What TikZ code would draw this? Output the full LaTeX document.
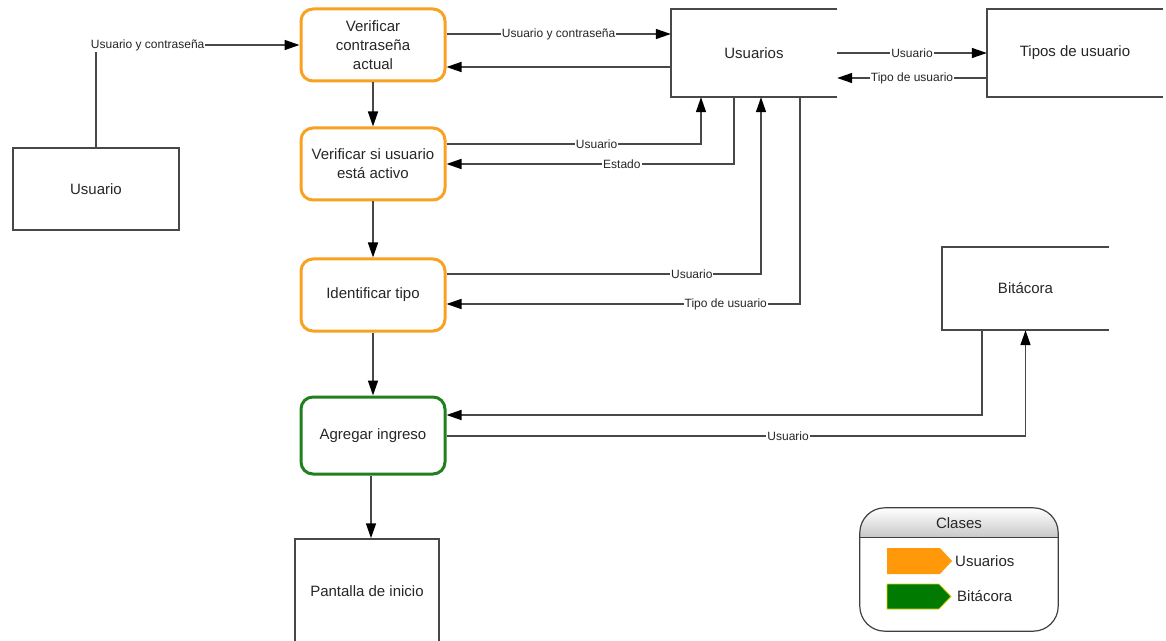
\documentclass[tikz,border=0pt]{standalone}
\usepackage{fontspec}
\setmainfont{Liberation Sans}
\usetikzlibrary{arrows.meta,calc}

\definecolor{procorange}{RGB}{247,162,34}
\definecolor{procgreen}{RGB}{32,128,32}
\definecolor{tagorange}{RGB}{255,153,10}
\definecolor{taggreen}{RGB}{0,122,0}
\definecolor{linegray}{RGB}{72,72,72}

\tikzset{
  proc/.style={rectangle, rounded corners=12bp, line width=3bp, align=center,
    minimum width=144bp, minimum height=72bp, inner sep=2bp,
    font=\fontsize{15bp}{19bp}\selectfont, text=black!85},
  usproc/.style={proc, draw=procorange},
  bitproc/.style={proc, draw=procgreen},
  store/.style={rectangle, inner sep=0pt, font=\fontsize{15bp}{19bp}\selectfont, text=black!85},
  entity/.style={store, draw=linegray, line width=1.5bp},
  storeline/.style={draw=linegray, line width=1.5bp},
  flow/.style={draw=linegray, line width=1.5bp, -{Triangle[length=15bp,width=10bp,color=black,fill=black]}},
  lbl/.style={fill=white, inner sep=1bp, font=\fontsize{12bp}{14bp}\selectfont, text=black!85},
}

\begin{document}
\begin{tikzpicture}[x=1bp, y=-1bp]
\useasboundingbox (0,0) rectangle (1166,641);
\clip (0,0) rectangle (1166,641);

% processes
\node[usproc] (vcon) at (373,45) {Verificar\\contraseña\\actual};
\node[usproc] (vact) at (373,164) {Verificar si usuario\\está activo};
\node[usproc] (ident) at (373,295) {Identificar tipo};
\node[bitproc, minimum height=77bp] (agr) at (373,435.5) {Agregar ingreso};

% external entities
\node[entity, minimum width=166bp, minimum height=82bp] (ue) at (96,189) {Usuario};
\node[entity, minimum width=144bp, minimum height=104bp] (pant) at (367,591) {Pantalla de inicio};

% data stores (open on the right)
\node[store, minimum width=166bp, minimum height=88bp] (us) at (754,53) {Usuarios};
\draw[storeline] (us.north east) -- (us.north west) -- (us.south west) -- (us.south east);
\node[store, minimum width=176bp, minimum height=88bp] (tipos) at (1075,53) {Tipos de usuario};
\draw[storeline] (tipos.north east) -- (tipos.north west) -- (tipos.south west) -- (tipos.south east);
\node[store, minimum width=167bp, minimum height=83bp] (bit) at (1025.5,288.5) {Bitácora};
\draw[storeline] (bit.north east) -- (bit.north west) -- (bit.south west) -- (bit.south east);

% data flows
\draw[flow] (ue.north) |- node[lbl, pos=0.627] {Usuario y contraseña} (vcon.west);
\draw[flow] ($(vcon.east)+(0,-11)$) -- node[lbl] {Usuario y contraseña} ($(us.west)+(0,-19)$);
\draw[flow] ($(us.west)+(0,14)$) -- ($(vcon.east)+(0,22)$);
\draw[flow] (vcon.south) -- (vact.north);

\draw[flow] ($(vact.east)+(0,-20)$) -| node[lbl, pos=0.295] {Usuario} ($(us.south)+(-53,0)$);
\draw[flow] ($(us.south)+(-20,0)$) |- node[lbl, pos=0.695] {Estado} (vact.east);
\draw[flow] (vact.south) -- (ident.north);

\draw[flow] ($(ident.east)+(0,-21)$) -| node[lbl, pos=0.39] {Usuario} ($(us.south)+(7,0)$);
\draw[flow] ($(us.south)+(46,0)$) |- node[lbl, pos=0.605] {Tipo de usuario} ($(ident.east)+(0,9)$);
\draw[flow] (ident.south) -- (agr.north);

\draw[flow] ($(bit.south)+(-43.5,0)$) |- ($(agr.east)+(0,-20.5)$);
\draw[flow] ($(agr.east)+(0,0.5)$) -| node[lbl, pos=0.295] {Usuario} (bit.south);
\draw[flow] ($(agr.south)+(-2,0)$) -- ($(agr.south |- pant.north)+(-2,0)$);

\draw[flow] (us.east) -- node[lbl] {Usuario} (tipos.west);
\draw[flow] ($(tipos.west)+(0,25)$) -- node[lbl] {Tipo de usuario} ($(us.east)+(0,25)$);

% legend
\node[draw=none, minimum width=198bp, minimum height=123bp, inner sep=0pt] (legend) at (959,569.5) {};
\begin{scope}
  \clip[rounded corners=25bp] (legend.north west) rectangle (legend.south east);
  \shade[top color=white, bottom color=black!22] (legend.north west) rectangle ($(legend.north east)+(0,30)$);
\end{scope}
\draw[draw=black!75, line width=1.2bp, rounded corners=25bp] (legend.north west) rectangle (legend.south east);
\draw[draw=black!75, line width=1.2bp] ($(legend.north west)+(0,30)$) -- ($(legend.north east)+(0,30)$);
\node[lbl, fill=none, font=\fontsize{15bp}{17bp}\selectfont] (legtitle) at (959,523) {Clases};

\fill[tagorange] (887,548) -- (940,548) -- (952,561) -- (940,574) -- (887,574) -- cycle;
\node[lbl, fill=none, anchor=west, font=\fontsize{15bp}{17bp}\selectfont] (legus) at (954,561) {Usuarios};
\filldraw[fill=taggreen, draw=yellow!70!olive, line width=0.8bp] (887,584) -- (939,584) -- (951,596.5) -- (939,609) -- (887,609) -- cycle;
\node[lbl, fill=none, anchor=west, font=\fontsize{15bp}{17bp}\selectfont] (legbit) at (956,596) {Bitácora};
\end{tikzpicture}
\end{document}
